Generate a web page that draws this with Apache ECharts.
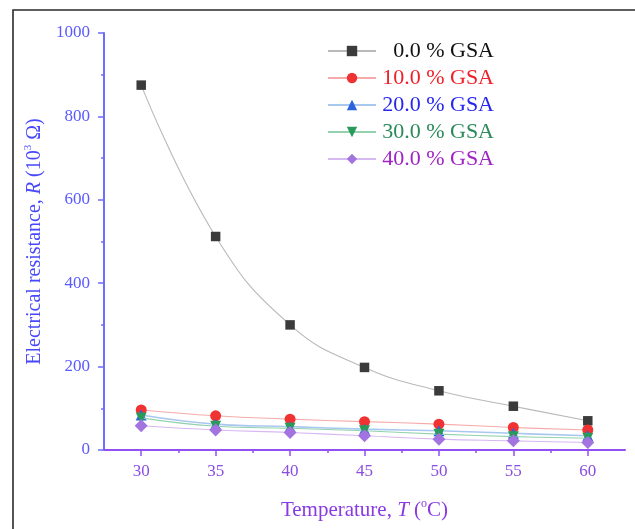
<!DOCTYPE html>
<html>
<head>
<meta charset="utf-8">
<title>Electrical resistance vs temperature</title>
<script src="https://cdn.jsdelivr.net/npm/echarts@6/dist/echarts.min.js"></script>
<style>
  html, body { margin: 0; padding: 0; background: #ffffff; }
  #chart { width: 635px; height: 529px; }
</style>
</head>
<body>
<div id="chart"></div>
<script>
// Temperature (°C) and resistance (10^3 Ω) for each GSA content
const temperatures = [30, 35, 40, 45, 50, 55, 60];
const gsa0  = [875, 512, 300, 198, 142, 105, 70];
const gsa10 = [96, 82, 74, 68, 62, 54, 48];
const gsa20 = [84, 62, 56, 50, 46, 40, 34];
const gsa30 = [77, 57, 52, 46, 38, 32, 28];
const gsa40 = [58, 48, 42, 34, 26, 22, 18];

const seriesNames = ['0.0 % GSA', '10.0 % GSA', '20.0 % GSA', '30.0 % GSA', '40.0 % GSA'];
const xMajorTicks = [30, 35, 40, 45, 50, 55, 60];
const xMinorTicks = [32.5, 37.5, 42.5, 47.5, 52.5, 57.5];

const FONT = '"Liberation Serif", "Times New Roman", serif';

const styles = [
  { marker: '#3b3b3b', line: '#b9b9b9', text: '#111111', symbol: 'rect', size: 9.5 },
  { marker: '#f03232', line: '#f7aaaa', text: '#f0202a', symbol: 'circle', size: 11 },
  { marker: '#2b62de', line: '#a9c8f0', text: '#2626f0', symbol: 'triangle', size: 11 },
  { marker: '#2a9a5c', line: '#93d2ad', text: '#2a8a5a', symbol: 'path://M0,0 L10,0 L5,9 Z', size: 11 },
  { marker: '#a374e0', line: '#d6b8f2', text: '#a024c4', symbol: 'diamond', size: 13 }
];
const values = [gsa0, gsa10, gsa20, gsa30, gsa40];

const chart = echarts.init(document.getElementById('chart'), null, { renderer: 'canvas' });

const series = values.map((vals, i) => ({
  name: seriesNames[i],
  type: 'line',
  xAxisIndex: 0,
  data: temperatures.map((t, k) => [t, vals[k]]),
  smooth: 0.45,
  symbol: styles[i].symbol,
  symbolSize: styles[i].size,
  itemStyle: { color: styles[i].marker },
  lineStyle: { color: styles[i].line, width: i === 2 ? 1.6 : 1.1 },
  emphasis: { disabled: true },
  z: 2 + i
}));

const option = {
  backgroundColor: '#ffffff',
  animation: false,
  graphic: [{
    type: 'rect',
    shape: { x: 13, y: 10, width: 700, height: 600 },
    style: { fill: 'none', stroke: '#2a2a2a', lineWidth: 1.6 },
    silent: true
  }],
  grid: { left: 104, right: 10, top: 33, bottom: 79, containLabel: false },
  legend: {
    orient: 'vertical',
    left: 322,
    top: 35,
    itemWidth: 48,
    itemHeight: 13,
    itemGap: 5,
    selectedMode: false,
    data: seriesNames.map((n, i) => ({
      name: n,
      textStyle: {
        rich: {
          t: { color: styles[i].text, fontFamily: FONT, fontSize: 22, width: 113, align: 'right', lineHeight: 22 }
        }
      }
    })),
    formatter: name => '{t|' + name + '}'
  },
  xAxis: [{
    type: 'value',
    min: 27.5,
    max: 62.5,
    name: '{n|Temperature, }{i|T}{n| (}{s|o}{n|C)}',
    nameLocation: 'middle',
    nameGap: 48,
    nameTextStyle: {
      rich: {
        n: { fontFamily: FONT, fontSize: 21, color: '#8a3ae2', lineHeight: 24 },
        i: { fontFamily: FONT, fontSize: 21, color: '#8a3ae2', fontStyle: 'italic', lineHeight: 24 },
        s: { fontFamily: FONT, fontSize: 12, color: '#8a3ae2', verticalAlign: 'top', lineHeight: 24, padding: [0, 0, 8, 0] }
      }
    },
    axisLine: { show: true, onZero: false, lineStyle: { color: '#9150f2', width: 2 } },
    axisTick: { show: true, inside: false, length: 6, customValues: xMajorTicks, lineStyle: { color: '#9150f2', width: 1.5 } },
    axisLabel: { customValues: xMajorTicks, margin: 13, fontFamily: FONT, fontSize: 17, color: '#8a4ee2' },
    splitLine: { show: false }
  }, {
    type: 'value',
    min: 27.5,
    max: 62.5,
    position: 'bottom',
    axisLine: { show: false },
    axisTick: { show: true, inside: false, length: 3, customValues: xMinorTicks, lineStyle: { color: '#9150f2', width: 1.5 } },
    axisLabel: { show: false },
    splitLine: { show: false }
  }],
  yAxis: {
    type: 'value',
    min: 0,
    max: 1000,
    interval: 200,
    name: '{n|Electrical resistance, }{i|R}{n| (10}{s|3}{n| Ω)}',
    nameLocation: 'middle',
    nameRotate: 90,
    nameGap: 53,
    nameTextStyle: {
      rich: {
        n: { fontFamily: FONT, fontSize: 20, color: '#4848fc', lineHeight: 24 },
        i: { fontFamily: FONT, fontSize: 20, color: '#4848fc', fontStyle: 'italic', lineHeight: 24 },
        s: { fontFamily: FONT, fontSize: 11, color: '#4848fc', verticalAlign: 'top', lineHeight: 24, padding: [0, 0, 8, 0] }
      }
    },
    axisLine: { show: true, lineStyle: { color: '#6c6cff', width: 2 } },
    axisTick: { show: true, inside: false, length: 6, lineStyle: { color: '#6c6cff', width: 1.5 } },
    minorTick: { show: true, splitNumber: 2, length: 3, lineStyle: { color: '#6c6cff', width: 1.5 } },
    axisLabel: { margin: 14, fontFamily: FONT, fontSize: 17, color: '#5a5aff', formatter: v => String(v) },
    splitLine: { show: false },
    minorSplitLine: { show: false }
  },
  series: series
};

chart.setOption(option);
</script>
</body>
</html>
